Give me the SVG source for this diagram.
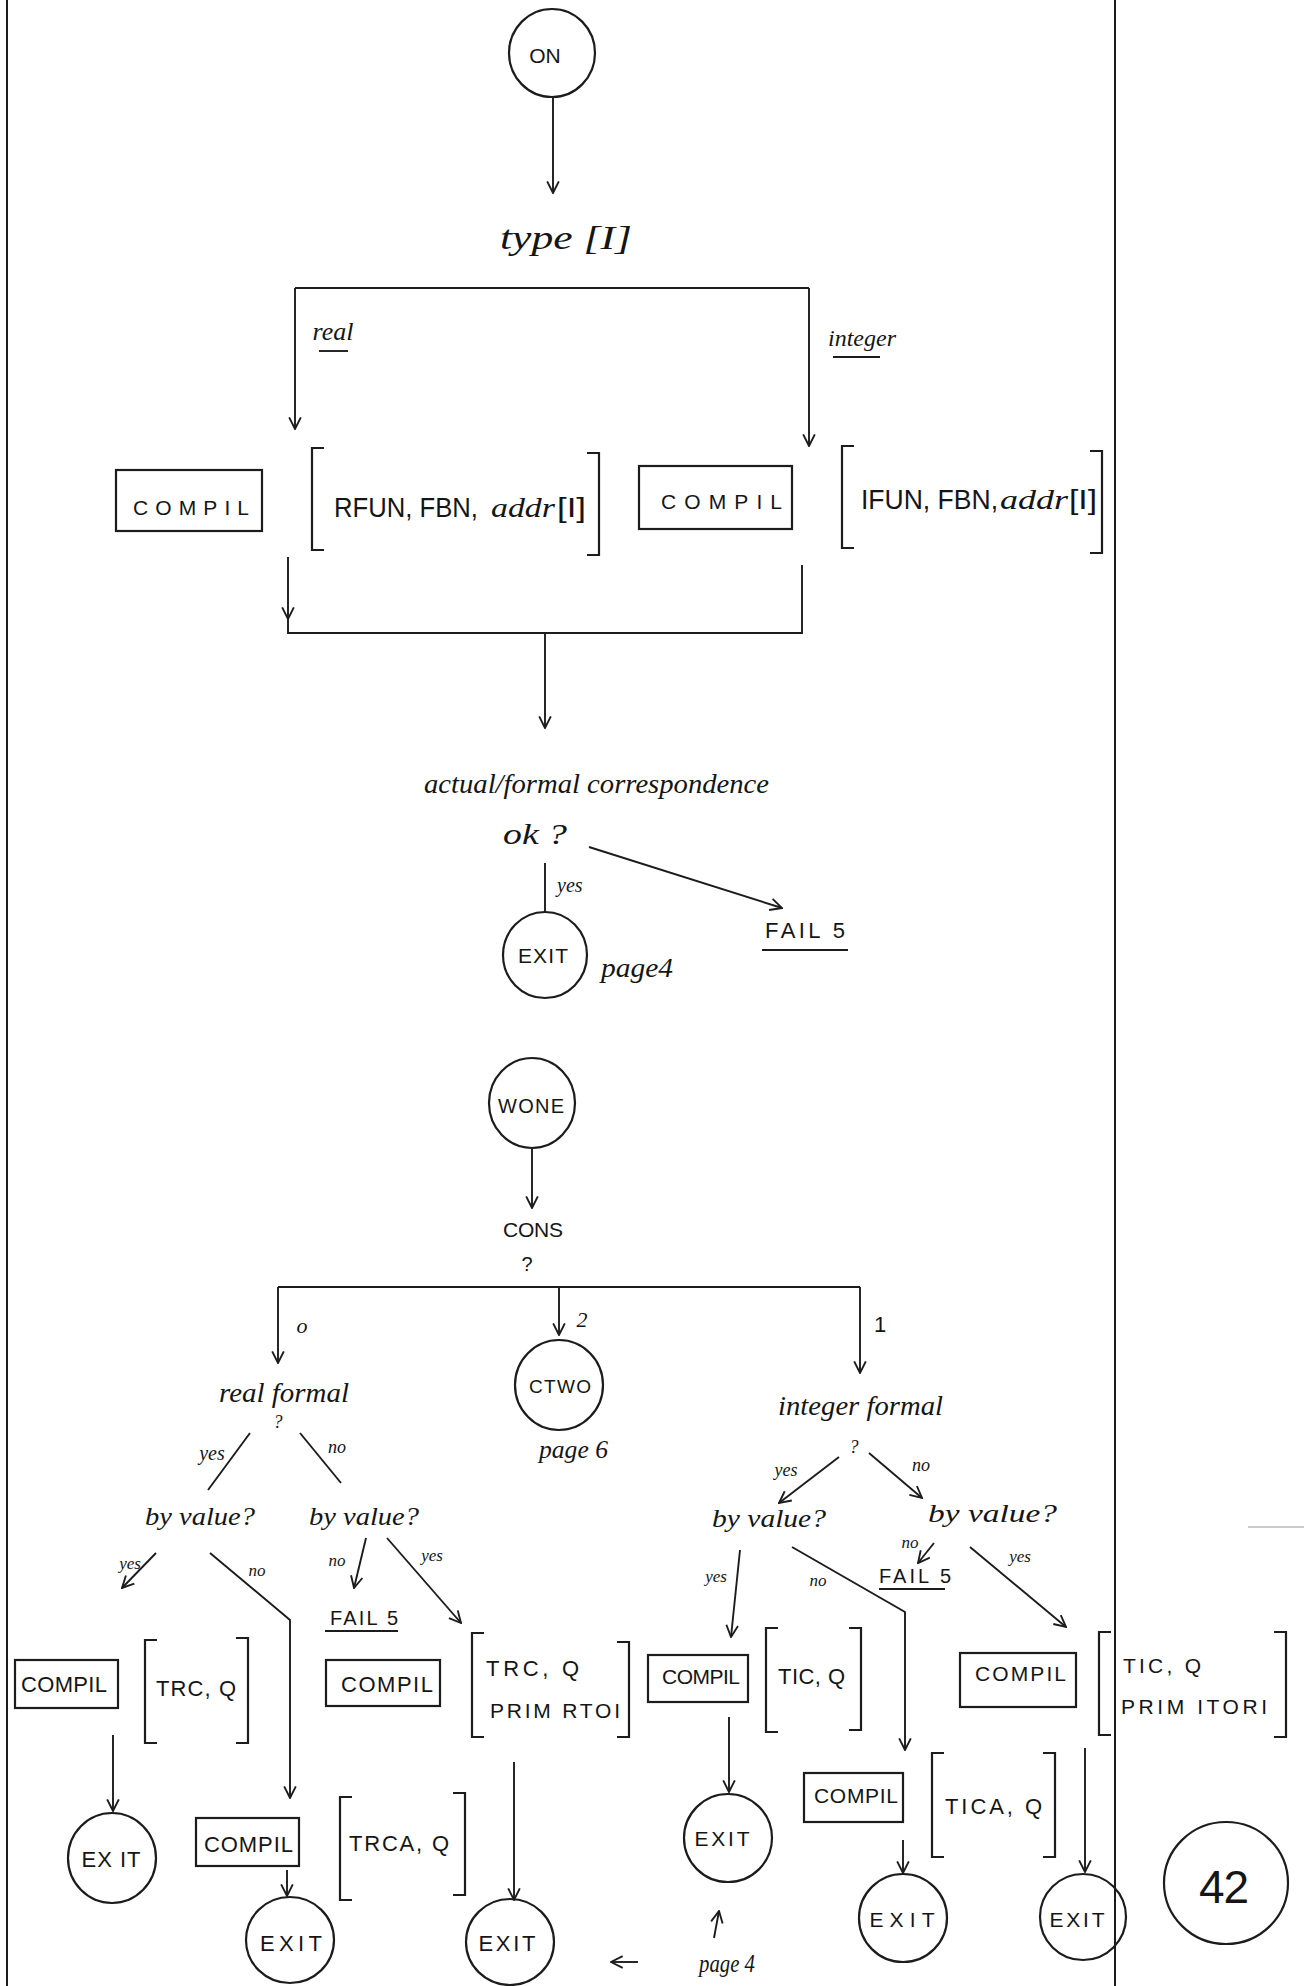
<svg xmlns="http://www.w3.org/2000/svg" width="1304" height="1986" viewBox="0 0 1304 1986">
<defs>
<style>
.ln{stroke:#1c1c1c;stroke-width:1.9;fill:none}
.bx{stroke:#1c1c1c;stroke-width:2.2;fill:none}
.fr{stroke:#1c1c1c;stroke-width:2;fill:none}
.hd{font-family:"Liberation Serif",serif;font-style:italic;fill:#151515}
.pr{font-family:"Liberation Sans",sans-serif;fill:#151515}
</style>
<marker id="ah" viewBox="0 0 12 12" refX="11" refY="6" markerWidth="14" markerHeight="14" markerUnits="userSpaceOnUse" orient="auto">
<path d="M1,1 L11,6 L1,11" fill="none" stroke="#1c1c1c" stroke-width="1.6"/>
</marker>
</defs>
<rect width="1304" height="1986" fill="#ffffff"/>

<g id="frame">
<line class="fr" x1="7" y1="0" x2="7" y2="1986"/>
<line class="fr" x1="1115" y1="0" x2="1115" y2="1986"/>
<line x1="1248" y1="1527" x2="1304" y2="1527" stroke="#999" stroke-width="1"/>
</g>

<g id="connectors">
<path class="ln" d="M553,97 V193" marker-end="url(#ah)"/>
<path class="ln" d="M295,288 H809"/>
<path class="ln" d="M295,288 V429" marker-end="url(#ah)"/>
<path class="ln" d="M809,288 V446" marker-end="url(#ah)"/>
<path class="ln" d="M288,557 V619" marker-end="url(#ah)"/>
<path class="ln" d="M288,618 V633 H802 V565"/>
<path class="ln" d="M545,634 V728" marker-end="url(#ah)"/>
<path class="ln" d="M589,847 L782,908" marker-end="url(#ah)"/>
<path class="ln" d="M545,863 V912"/>
<path class="ln" d="M532,1148 V1208" marker-end="url(#ah)"/>
<path class="ln" d="M278,1287 H860"/>
<path class="ln" d="M278,1287 V1363" marker-end="url(#ah)"/>
<path class="ln" d="M559,1287 V1335" marker-end="url(#ah)"/>
<path class="ln" d="M860,1287 V1373" marker-end="url(#ah)"/>
<path class="ln" d="M250,1433 L208,1490"/>
<path class="ln" d="M300,1433 L341,1483"/>
<path class="ln" d="M156,1553 L122,1588" marker-end="url(#ah)"/>
<path class="ln" d="M210,1553 L290,1620 V1798" marker-end="url(#ah)"/>
<path class="ln" d="M366,1538 L354,1588" marker-end="url(#ah)"/>
<path class="ln" d="M387,1538 L461,1623" marker-end="url(#ah)"/>
<path class="ln" d="M113,1735 V1811" marker-end="url(#ah)"/>
<path class="ln" d="M514,1762 V1900" marker-end="url(#ah)"/>
<path class="ln" d="M287,1870 V1896" marker-end="url(#ah)"/>
<path class="ln" d="M638,1962 H611" marker-end="url(#ah)"/>
<path class="ln" d="M839,1457 L779,1503" marker-end="url(#ah)"/>
<path class="ln" d="M869,1453 L922,1498" marker-end="url(#ah)"/>
<path class="ln" d="M934,1543 L918,1563" marker-end="url(#ah)"/>
<path class="ln" d="M970,1547 L1066,1627" marker-end="url(#ah)"/>
<path class="ln" d="M740,1550 L731,1637" marker-end="url(#ah)"/>
<path class="ln" d="M792,1547 L905,1612 V1750" marker-end="url(#ah)"/>
<path class="ln" d="M729,1717 V1792" marker-end="url(#ah)"/>
<path class="ln" d="M714,1938 L719,1911" marker-end="url(#ah)"/>
<path class="ln" d="M903,1840 V1873" marker-end="url(#ah)"/>
<path class="ln" d="M1085,1748 V1872" marker-end="url(#ah)"/>
</g>

<g id="n-on">
<ellipse class="bx" cx="552" cy="53" rx="43" ry="44"/>
<text class="pr" x="545" y="63" font-size="21" text-anchor="middle">ON</text>
</g>
<g id="n-type">
<text class="hd" x="500" y="249" font-size="34" textLength="132" lengthAdjust="spacingAndGlyphs">type [I]</text>
</g>
<g id="l-real">
<text class="hd" x="333" y="340" font-size="26" text-anchor="middle">real</text>
<line class="ln" x1="319" y1="351" x2="348" y2="351"/>
</g>
<g id="l-integer">
<text class="hd" x="862" y="346" font-size="24" text-anchor="middle">integer</text>
<line class="ln" x1="833" y1="357" x2="880" y2="357"/>
</g>

<g id="n-compil1">
<rect class="bx" x="116" y="470" width="146" height="61"/>
<text class="pr" x="133" y="515" font-size="21" textLength="116">COMPIL</text>
</g>
<g id="n-rfun">
<path class="bx" d="M324,448 H312 V550 H324"/>
<path class="bx" d="M587,453 H599 V555 H587"/>
<text class="pr" x="334" y="517" font-size="27" textLength="144" lengthAdjust="spacingAndGlyphs">RFUN, FBN,</text>
<text class="hd" x="491" y="517" font-size="28" textLength="64" lengthAdjust="spacingAndGlyphs">addr</text>
<text class="pr" x="557" y="517" font-size="27" textLength="29" lengthAdjust="spacingAndGlyphs">[I]</text>
</g>
<g id="n-compil2">
<rect class="bx" x="639" y="466" width="153" height="63"/>
<text class="pr" x="661" y="509" font-size="21" textLength="121">COMPIL</text>
</g>
<g id="n-ifun">
<path class="bx" d="M854,446 H842 V548 H854"/>
<path class="bx" d="M1090,451 H1102 V553 H1090"/>
<text class="pr" x="861" y="509" font-size="27" textLength="137" lengthAdjust="spacingAndGlyphs">IFUN, FBN,</text>
<text class="hd" x="1000" y="509" font-size="28" textLength="68" lengthAdjust="spacingAndGlyphs">addr</text>
<text class="pr" x="1069" y="509" font-size="27" textLength="28" lengthAdjust="spacingAndGlyphs">[I]</text>
</g>

<g id="n-corr">
<text class="hd" x="424" y="793" font-size="28" textLength="345" lengthAdjust="spacingAndGlyphs">actual/formal correspondence</text>
<text class="hd" x="503" y="844" font-size="30" textLength="64" lengthAdjust="spacingAndGlyphs">ok ?</text>
</g>
<g id="l-yes1"><text class="hd" x="557" y="892" font-size="20">yes</text></g>
<g id="n-fail1">
<text class="pr" x="765" y="938" font-size="22" textLength="80">FAIL 5</text>
<line class="ln" x1="762" y1="950" x2="848" y2="950"/>
</g>
<g id="n-exit1">
<ellipse class="bx" cx="545" cy="955" rx="42" ry="43"/>
<text class="pr" x="543" y="963" font-size="21" text-anchor="middle" textLength="50">EXIT</text>
<text class="hd" x="601" y="977" font-size="28" textLength="72" lengthAdjust="spacingAndGlyphs">page4</text>
</g>

<g id="n-wone">
<ellipse class="bx" cx="532" cy="1103" rx="43" ry="45"/>
<text class="pr" x="531" y="1113" font-size="20" text-anchor="middle" textLength="66">WONE</text>
</g>
<g id="n-cons">
<text class="pr" x="533" y="1237" font-size="21" text-anchor="middle" textLength="60">CONS</text>
<text class="pr" x="527" y="1271" font-size="20" text-anchor="middle">?</text>
</g>
<g id="l-branch">
<text class="hd" x="302" y="1333" font-size="22" text-anchor="middle">o</text>
<text class="hd" x="582" y="1327" font-size="22" text-anchor="middle">2</text>
<text class="pr" x="880" y="1332" font-size="22" text-anchor="middle">1</text>
</g>
<g id="n-ctwo">
<ellipse class="bx" cx="559" cy="1385" rx="44" ry="45"/>
<text class="pr" x="560" y="1393" font-size="19" text-anchor="middle" textLength="62">CTWO</text>
<text class="hd" x="539" y="1458" font-size="25" textLength="69" lengthAdjust="spacingAndGlyphs">page 6</text>
</g>

<g id="n-realformal">
<text class="hd" x="219" y="1402" font-size="27" textLength="130" lengthAdjust="spacingAndGlyphs">real formal</text>
<text class="hd" x="278" y="1428" font-size="18" text-anchor="middle">?</text>
<text class="hd" x="212" y="1460" font-size="20" text-anchor="middle">yes</text>
<text class="hd" x="337" y="1453" font-size="18" text-anchor="middle">no</text>
</g>
<g id="n-byval1">
<text class="hd" x="145" y="1525" font-size="25" textLength="110" lengthAdjust="spacingAndGlyphs">by value?</text>
<text class="hd" x="130" y="1569" font-size="17" text-anchor="middle">yes</text>
<text class="hd" x="257" y="1576" font-size="17" text-anchor="middle">no</text>
</g>
<g id="n-byval2">
<text class="hd" x="309" y="1525" font-size="25" textLength="110" lengthAdjust="spacingAndGlyphs">by value?</text>
<text class="hd" x="337" y="1566" font-size="17" text-anchor="middle">no</text>
<text class="hd" x="432" y="1561" font-size="17" text-anchor="middle">yes</text>
</g>
<g id="n-fail2">
<text class="pr" x="330" y="1625" font-size="20" textLength="68">FAIL 5</text>
<line class="ln" x1="325" y1="1631" x2="398" y2="1631"/>
</g>

<g id="n-compil-a">
<rect class="bx" x="15" y="1660" width="103" height="48"/>
<text class="pr" x="21" y="1692" font-size="22" textLength="86">COMPIL</text>
</g>
<g id="n-trc-a">
<path class="bx" d="M157,1640 H145 V1743 H157"/>
<path class="bx" d="M236,1638 H248 V1743 H236"/>
<text class="pr" x="156" y="1696" font-size="22" textLength="80">TRC, Q</text>
</g>
<g id="n-exit-a">
<ellipse class="bx" cx="112" cy="1858" rx="44" ry="45"/>
<text class="pr" x="111" y="1867" font-size="22" text-anchor="middle" textLength="59">EX IT</text>
</g>
<g id="n-compil-b">
<rect class="bx" x="326" y="1660" width="114" height="46"/>
<text class="pr" x="341" y="1692" font-size="22" textLength="92">COMPIL</text>
</g>
<g id="n-trc-b">
<path class="bx" d="M484,1633 H472 V1737 H484"/>
<path class="bx" d="M617,1642 H629 V1737 H617"/>
<text class="pr" x="486" y="1676" font-size="22" textLength="93">TRC, Q</text>
<text class="pr" x="490" y="1718" font-size="21" textLength="130">PRIM RTOI</text>
</g>
<g id="n-exit-c">
<ellipse class="bx" cx="510" cy="1942" rx="44" ry="43"/>
<text class="pr" x="507" y="1951" font-size="22" text-anchor="middle" textLength="57">EXIT</text>
</g>
<g id="n-compil-d">
<rect class="bx" x="196" y="1818" width="103" height="48"/>
<text class="pr" x="204" y="1852" font-size="22" textLength="89">COMPIL</text>
</g>
<g id="n-trca">
<path class="bx" d="M352,1797 H340 V1900 H352"/>
<path class="bx" d="M453,1793 H465 V1895 H453"/>
<text class="pr" x="349" y="1851" font-size="22" textLength="100">TRCA, Q</text>
</g>
<g id="n-exit-b">
<ellipse class="bx" cx="290" cy="1940" rx="44" ry="43"/>
<text class="pr" x="291" y="1951" font-size="22" text-anchor="middle" textLength="62">EXIT</text>
</g>

<g id="n-intformal">
<text class="hd" x="778" y="1415" font-size="27" textLength="165" lengthAdjust="spacingAndGlyphs">integer formal</text>
<text class="hd" x="854" y="1453" font-size="18" text-anchor="middle">?</text>
<text class="hd" x="786" y="1476" font-size="18" text-anchor="middle">yes</text>
<text class="hd" x="921" y="1471" font-size="18" text-anchor="middle">no</text>
</g>
<g id="n-byval3">
<text class="hd" x="712" y="1527" font-size="25" textLength="114" lengthAdjust="spacingAndGlyphs">by value?</text>
<text class="hd" x="716" y="1582" font-size="17" text-anchor="middle">yes</text>
<text class="hd" x="818" y="1586" font-size="17" text-anchor="middle">no</text>
</g>
<g id="n-byval4">
<text class="hd" x="928" y="1522" font-size="26" textLength="129" lengthAdjust="spacingAndGlyphs">by value?</text>
<text class="hd" x="910" y="1548" font-size="17" text-anchor="middle">no</text>
<text class="hd" x="1020" y="1562" font-size="17" text-anchor="middle">yes</text>
</g>
<g id="n-fail3">
<text class="pr" x="879" y="1583" font-size="20" textLength="72">FAIL 5</text>
<line class="ln" x1="879" y1="1589" x2="945" y2="1589"/>
</g>

<g id="n-compil-e">
<rect class="bx" x="648" y="1655" width="100" height="47"/>
<text class="pr" x="662" y="1684" font-size="21" textLength="78">COMPIL</text>
</g>
<g id="n-tic-e">
<path class="bx" d="M778,1628 H766 V1732 H778"/>
<path class="bx" d="M849,1628 H861 V1730 H849"/>
<text class="pr" x="778" y="1684" font-size="22" textLength="67">TIC, Q</text>
</g>
<g id="n-exit-e">
<ellipse class="bx" cx="728" cy="1838" rx="44" ry="44"/>
<text class="pr" x="722" y="1846" font-size="21" text-anchor="middle" textLength="55">EXIT</text>
</g>
<g id="l-page4b">
<text class="hd" x="699" y="1972" font-size="26" textLength="56" lengthAdjust="spacingAndGlyphs">page 4</text>
</g>
<g id="n-compil-f">
<rect class="bx" x="804" y="1773" width="99" height="49"/>
<text class="pr" x="814" y="1803" font-size="21" textLength="84">COMPIL</text>
</g>
<g id="n-tica">
<path class="bx" d="M944,1753 H932 V1857 H944"/>
<path class="bx" d="M1043,1753 H1055 V1857 H1043"/>
<text class="pr" x="945" y="1814" font-size="22" textLength="97">TICA, Q</text>
</g>
<g id="n-exit-f">
<ellipse class="bx" cx="903" cy="1918" rx="44" ry="44"/>
<text class="pr" x="902" y="1927" font-size="21" text-anchor="middle" textLength="65">EXIT</text>
</g>
<g id="n-compil-g">
<rect class="bx" x="960" y="1653" width="116" height="54"/>
<text class="pr" x="975" y="1681" font-size="21" textLength="91">COMPIL</text>
</g>
<g id="n-tic-g">
<path class="bx" d="M1111,1632 H1099 V1735 H1111"/>
<path class="bx" d="M1274,1632 H1286 V1737 H1274"/>
<text class="pr" x="1123" y="1673" font-size="21" textLength="78">TIC, Q</text>
<text class="pr" x="1121" y="1714" font-size="21" textLength="146">PRIM ITORI</text>
</g>
<g id="n-exit-g">
<ellipse class="bx" cx="1083" cy="1917" rx="43" ry="43"/>
<text class="pr" x="1077" y="1927" font-size="21" text-anchor="middle" textLength="55">EXIT</text>
</g>
<g id="n-42">
<ellipse class="bx" cx="1226" cy="1883" rx="62" ry="61"/>
<text class="pr" x="1224" y="1903" font-size="46" text-anchor="middle" textLength="50">42</text>
</g>
</svg>
